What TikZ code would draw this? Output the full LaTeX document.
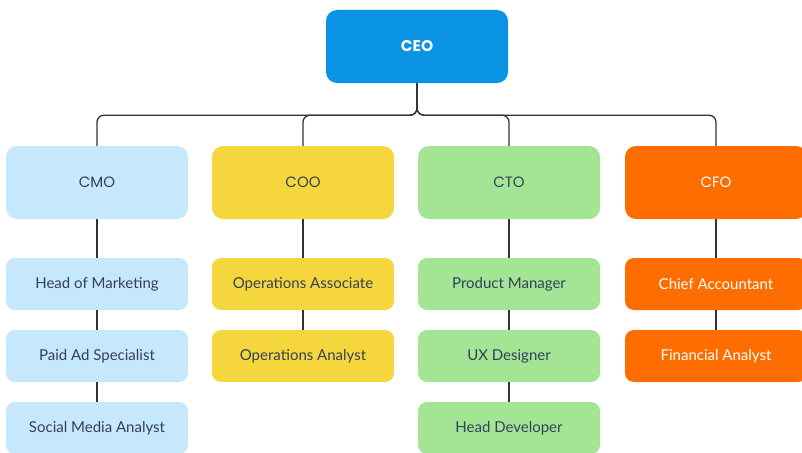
\documentclass[tikz,border=0pt]{standalone}
\usepackage{fontspec}
\setmainfont{Poppins}
\newfontfamily\subfont{Lato}
\definecolor{ceoblue}{HTML}{0A93E2}
\definecolor{cmoblue}{HTML}{C6E8FC}
\definecolor{cooyel}{HTML}{F5D63D}
\definecolor{ctogreen}{HTML}{A3E595}
\definecolor{cfoorange}{HTML}{FF6D00}
\definecolor{txt}{HTML}{34405A}
\definecolor{linec}{HTML}{333333}
\begin{document}
\begin{tikzpicture}[x=1pt,y=-1pt,
  topbox/.style={rounded corners=11pt, minimum width=182pt, minimum height=73pt, inner sep=0pt, text=txt, font=\fontsize{15}{18}\selectfont},
  subbox/.style={rounded corners=9pt, minimum width=182pt, minimum height=52pt, inner sep=0pt, text=txt, font=\subfont\fontsize{15}{18}\selectfont},
  conn/.style={draw=linec, line width=1.3pt},
  tree/.style={conn, rounded corners=7pt}]
\useasboundingbox (0,0) rectangle (802,452);
\node[topbox, fill=ceoblue, text=white, font=\bfseries\fontsize{15.5}{18}\selectfont] (ceo) at (417,46.5) {CEO};
\node[topbox, fill=cmoblue] (cmo) at (97,182.5) {CMO};
\node[topbox, fill=cooyel] (coo) at (303,182.5) {COO};
\node[topbox, fill=ctogreen] (cto) at (509,182.5) {CTO};
\node[topbox, fill=cfoorange, text=white] (cfo) at (716,182.5) {CFO};
% CMO column
\node[subbox, fill=cmoblue] (hom) at (97,284) {Head of Marketing};
\node[subbox, fill=cmoblue] (pas) at (97,356) {Paid Ad Specialist};
\node[subbox, fill=cmoblue] (sma) at (97,428) {Social Media Analyst};
% COO column
\node[subbox, fill=cooyel] (opa) at (303,284) {Operations Associate};
\node[subbox, fill=cooyel] (opn) at (303,356) {Operations Analyst};
% CTO column
\node[subbox, fill=ctogreen] (pm) at (509,284) {Product Manager};
\node[subbox, fill=ctogreen] (ux) at (509,356) {UX Designer};
\node[subbox, fill=ctogreen] (hd) at (509,428) {Head Developer};
% CFO column
\node[subbox, fill=cfoorange, text=white] (ca) at (716,284) {Chief Accountant};
\node[subbox, fill=cfoorange, text=white] (fa) at (716,356) {Financial Analyst};
% tree connectors
\draw[tree] (ceo.south) -- ++(0,32) -| (cmo.north);
\draw[tree] (ceo.south) -- ++(0,32) -| (coo.north);
\draw[tree] (ceo.south) -- ++(0,32) -| (cto.north);
\draw[tree] (ceo.south) -- ++(0,32) -| (cfo.north);
% column connectors
\draw[conn] (cmo.south) -- (hom.north);
\draw[conn] (hom.south) -- (pas.north);
\draw[conn] (pas.south) -- (sma.north);
\draw[conn] (coo.south) -- (opa.north);
\draw[conn] (opa.south) -- (opn.north);
\draw[conn] (cto.south) -- (pm.north);
\draw[conn] (pm.south) -- (ux.north);
\draw[conn] (ux.south) -- (hd.north);
\draw[conn] (cfo.south) -- (ca.north);
\draw[conn] (ca.south) -- (fa.north);
\end{tikzpicture}
\end{document}
